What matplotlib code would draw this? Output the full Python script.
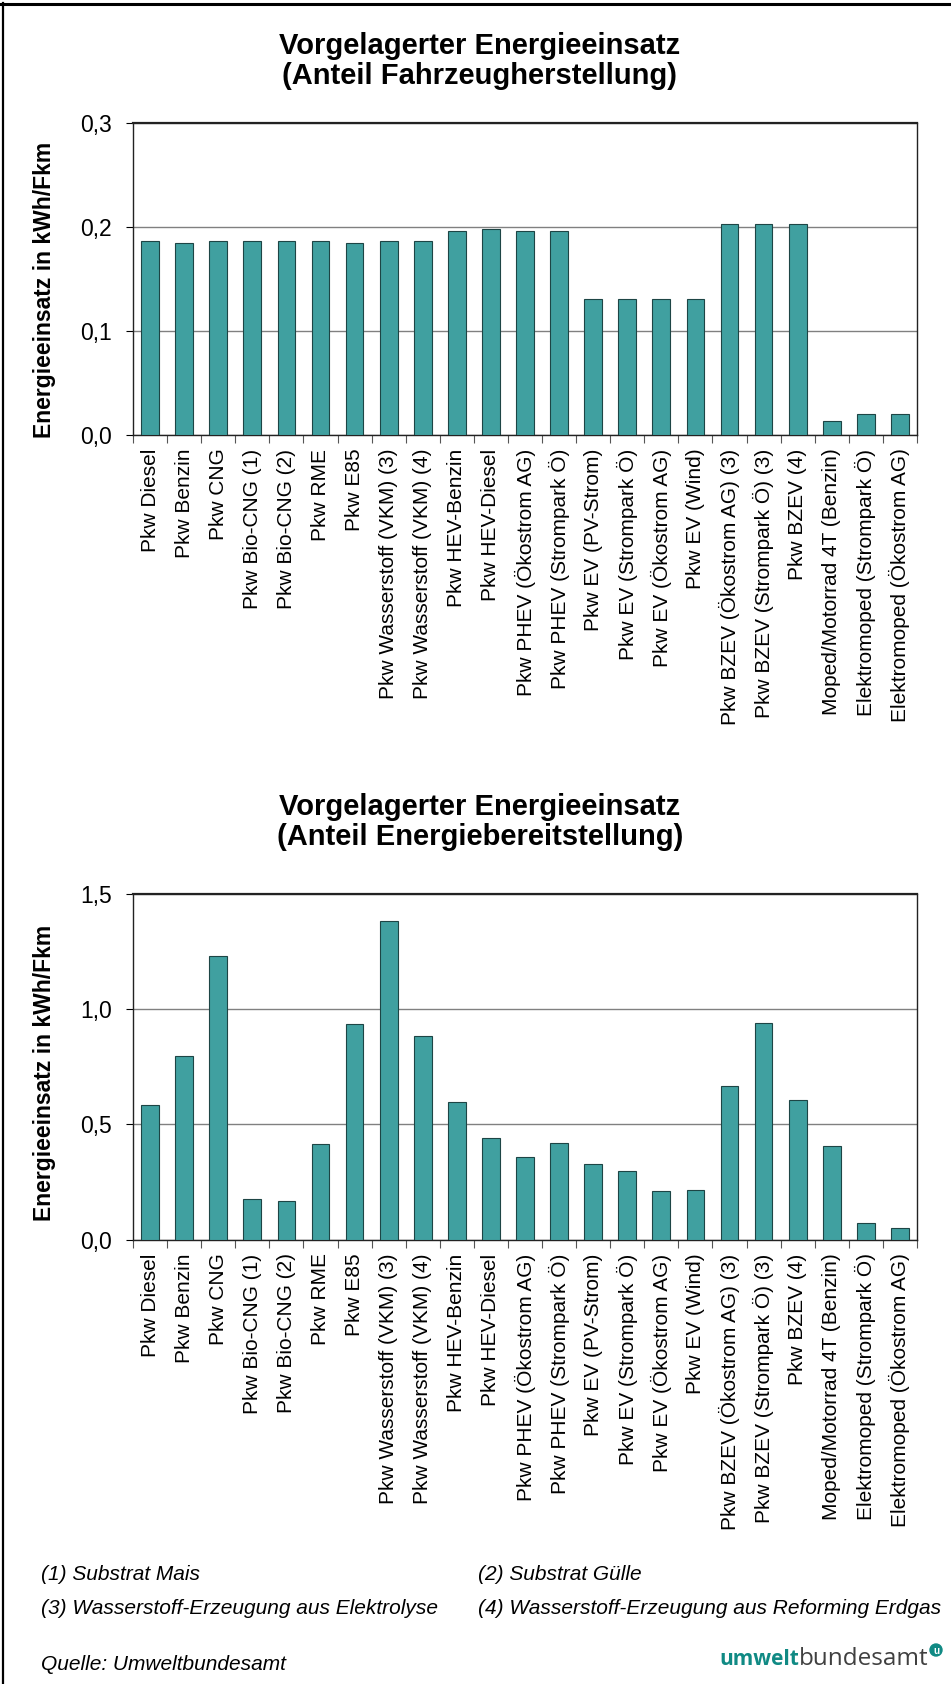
import matplotlib
matplotlib.use('Agg')
import matplotlib.pyplot as plt
from matplotlib.lines import Line2D
from matplotlib.patches import Ellipse

plt.rcParams['font.family'] = ['Liberation Sans', 'DejaVu Sans']

categories = ['Pkw Diesel', 'Pkw Benzin', 'Pkw CNG', 'Pkw Bio-CNG (1)', 'Pkw Bio-CNG (2)',
              'Pkw RME', 'Pkw E85', 'Pkw Wasserstoff (VKM) (3)', 'Pkw Wasserstoff (VKM) (4)',
              'Pkw HEV-Benzin', 'Pkw HEV-Diesel', 'Pkw PHEV (Ökostrom AG)',
              'Pkw PHEV (Strompark Ö)', 'Pkw EV (PV-Strom)', 'Pkw EV (Strompark Ö)',
              'Pkw EV (Ökostrom AG)', 'Pkw EV (Wind)', 'Pkw BZEV (Ökostrom AG) (3)',
              'Pkw BZEV (Strompark Ö) (3)', 'Pkw BZEV (4)', 'Moped/Motorrad 4T (Benzin)',
              'Elektromoped (Strompark Ö)', 'Elektromoped (Ökostrom AG)']

# Anteil Fahrzeugherstellung, kWh/Fkm
fahrzeug = [0.1865, 0.1842, 0.1865, 0.1865, 0.1865, 0.1865, 0.1842, 0.1865, 0.1865,
            0.1958, 0.1981, 0.1958, 0.1958, 0.130, 0.130, 0.130, 0.130,
            0.2022, 0.2022, 0.2022, 0.0132, 0.0199, 0.0199]

# Anteil Energiebereitstellung, kWh/Fkm
energie = [0.582, 0.798, 1.231, 0.178, 0.168, 0.414, 0.934, 1.381, 0.883,
           0.599, 0.439, 0.358, 0.421, 0.329, 0.297, 0.211, 0.213,
           0.666, 0.941, 0.604, 0.407, 0.0695, 0.048]

top_ticks = [0.0, 0.1, 0.2, 0.3]
top_labels = ['0,0', '0,1', '0,2', '0,3']
bottom_ticks = [0.0, 0.5, 1.0, 1.5]
bottom_labels = ['0,0', '0,5', '1,0', '1,5']

W, H = 951, 1684
fig = plt.figure(figsize=(W / 100, H / 100), dpi=100)


def draw(ax, values, yticks, ylabels):
    n = len(values)
    x = list(range(n))
    ax.bar(x, values, width=0.52, color='#40a0a0', edgecolor='#1d4545', linewidth=0.8, zorder=3)
    ax.set_xlim(-0.5, n - 0.5)
    ax.set_ylim(yticks[0], yticks[-1])
    ax.set_yticks(yticks, ylabels)
    ax.yaxis.grid(True, color='#808080', linewidth=1.0)
    ax.set_axisbelow(True)
    ax.set_xticks(x, categories, rotation=90, fontsize=15)
    ax.set_xticks([i - 0.5 for i in range(n + 1)], minor=True)
    ax.tick_params(axis='x', which='major', length=0, pad=10)
    ax.tick_params(axis='x', which='minor', length=6, width=0.8, color='#555555')
    ax.tick_params(axis='y', length=5, width=0.8, pad=10, labelsize=16.5)
    for s in ax.spines.values():
        s.set_color('#222222')
        s.set_linewidth(1.0)
    ax.spines['top'].set_linewidth(1.6)


ax1 = fig.add_axes([133 / W, 1 - 434.7 / H, 784 / W, 312 / H])
draw(ax1, fahrzeug, top_ticks, top_labels)
ax2 = fig.add_axes([133 / W, 1 - 1239.5 / H, 784 / W, 345.5 / H])
draw(ax2, energie, bottom_ticks, bottom_labels)

# titles
fig.text(480 / W, 1 - 61 / H, 'Vorgelagerter Energieeinsatz\n(Anteil Fahrzeugherstellung)',
         ha='center', va='center', fontsize=21, fontweight='bold', linespacing=1.1)
fig.text(480 / W, 1 - 822 / H, 'Vorgelagerter Energieeinsatz\n(Anteil Energiebereitstellung)',
         ha='center', va='center', fontsize=21, fontweight='bold', linespacing=1.1)

# y labels
fig.text(45 / W, 1 - 290 / H, 'Energieeinsatz in kWh/Fkm', rotation=90,
         ha='center', va='center', fontsize=16.5, fontweight='bold')
fig.text(45 / W, 1 - 1073 / H, 'Energieeinsatz in kWh/Fkm', rotation=90,
         ha='center', va='center', fontsize=16.5, fontweight='bold')

# footnotes
fig.text(41 / W, 1 - 1575 / H, '(1) Substrat Mais', fontsize=15, style='italic', va='center')
fig.text(478 / W, 1 - 1575 / H, '(2) Substrat Gülle', fontsize=15, style='italic', va='center')
fig.text(41 / W, 1 - 1609 / H, '(3) Wasserstoff-Erzeugung aus Elektrolyse', fontsize=15,
         style='italic', va='center')
fig.text(478 / W, 1 - 1609 / H, '(4) Wasserstoff-Erzeugung aus Reforming Erdgas', fontsize=15,
         style='italic', va='center')
fig.text(41 / W, 1 - 1664 / H, 'Quelle: Umweltbundesamt', fontsize=15, style='italic', va='center')

# logo
fig.text(799 / W, 1 - 1665 / H, 'umwelt', ha='right', va='baseline', fontsize=15,
         fontweight='bold', color='#108a84', family='Open Sans')
fig.text(799 / W, 1 - 1665 / H, 'bundesamt', ha='left', va='baseline', fontsize=17.5,
         color='#404040', family='Open Sans')
fig.add_artist(Ellipse((936 / W, 1 - 1650 / H), 12 / W, 12 / H, color='#108a84'))
fig.text(936 / W, 1 - 1650.5 / H, 'u', ha='center', va='center', fontsize=7,
         fontweight='bold', color='white')

# frame lines
fig.add_artist(Line2D([0, 1], [1 - 4 / H, 1 - 4 / H], color='black', linewidth=2.2))
fig.add_artist(Line2D([3 / W, 3 / W], [0, 1 - 3 / H], color='black', linewidth=1.6))

fig.savefig('out.png', dpi=100, facecolor='white')
